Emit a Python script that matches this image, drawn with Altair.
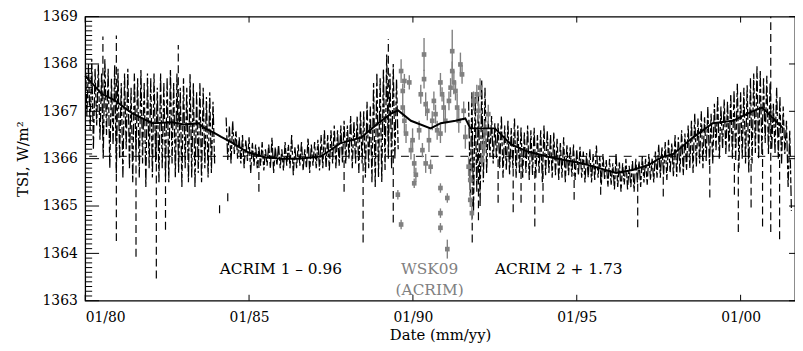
import altair as alt
import pandas as pd

FONT = "DejaVu Serif"
GRAY = "#808080"

# ---------------- data ----------------
BIN = 0.1
# ACRIM 1, noisy phase (bins of 0.1 yr starting 1980.0)
A_start = 1980.0
A_hi = [1368.2, 1368.0, 1368.1, 1367.9, 1368.0, 1367.8, 1368.1, 1367.9, 1367.7, 1368.0,
        1367.9, 1367.6, 1367.8, 1367.9, 1367.5, 1367.8, 1367.7, 1367.9, 1367.6, 1367.8,
        1367.7, 1367.8, 1367.5, 1367.8, 1367.6, 1367.7, 1367.9, 1367.6, 1367.8, 1367.5,
        1367.7, 1367.5, 1367.8, 1367.6, 1367.4, 1367.6, 1367.5, 1367.3, 1367.4, 1367.2]
A_lo = [1366.9, 1366.6, 1366.2, 1366.7, 1366.4, 1366.0, 1366.5, 1365.8, 1366.3, 1365.7,
        1366.0, 1365.6, 1366.2, 1365.8, 1365.5, 1366.1, 1365.6, 1365.9, 1365.4, 1365.8,
        1365.6, 1365.9, 1365.5, 1365.8, 1365.6, 1365.5, 1365.9, 1365.6, 1365.7, 1365.4,
        1365.8, 1365.5, 1365.6, 1365.4, 1365.7, 1365.5, 1365.8, 1365.6, 1365.7, 1365.9]
# ACRIM 1, quiet phase (from 1984.3)
B_start = 1984.3
B_hi = [1366.87, 1366.70, 1366.80, 1366.60,
        1366.45, 1366.50, 1366.40, 1366.45, 1366.35,
        1366.30, 1366.25, 1366.35, 1366.20, 1366.30, 1366.45, 1366.25, 1366.30, 1366.20, 1366.35,
        1366.30, 1366.50, 1366.25, 1366.30, 1366.35, 1366.20, 1366.45, 1366.30, 1366.35, 1366.40, 1366.50,
        1366.60, 1366.50, 1366.60, 1366.70, 1366.60, 1366.70,
        1366.80, 1366.70, 1366.90, 1366.80, 1366.90, 1367.00,
        1367.00, 1367.20, 1367.10,
        1367.60, 1367.80, 1367.70,
        1367.90, 1368.20,
        1367.80, 1368.00, 1367.70]
B_lo = [1365.97, 1365.90, 1366.10, 1366.00,
        1365.90, 1365.80, 1365.95, 1365.70, 1365.85,
        1365.80, 1365.85, 1365.75, 1365.85, 1365.80, 1365.70, 1365.85, 1365.80, 1365.75, 1365.85,
        1365.80, 1365.65, 1365.80, 1365.85, 1365.75, 1365.80, 1365.70, 1365.85, 1365.80, 1365.75, 1365.80,
        1365.80, 1365.75, 1365.90, 1365.80, 1365.85, 1365.90,
        1365.90, 1366.00, 1365.80, 1365.90, 1365.70, 1365.90,
        1365.60, 1365.80, 1365.50,
        1365.40, 1365.60, 1365.50,
        1365.76, 1366.00,
        1365.80, 1366.00, 1366.20]
# ACRIM 2 (from 1991.7)
C_start = 1991.7
C_hi = [1367.20, 1367.40, 1367.30, 1367.37,
        1367.65, 1367.50,
        1366.80, 1366.90, 1366.75,
        1366.75, 1366.90, 1366.70, 1366.80, 1366.65, 1366.85, 1366.70,
        1366.66, 1366.55, 1366.70, 1366.60, 1366.65, 1366.50, 1366.60, 1366.70,
        1366.60, 1366.50, 1366.55,
        1366.43, 1366.35, 1366.45, 1366.30,
        1366.24, 1366.30, 1366.20, 1366.25, 1366.15,
        1366.12, 1366.20, 1366.10, 1366.28, 1366.05, 1366.10,
        1365.97, 1366.00, 1365.90, 1366.10, 1365.95, 1365.90, 1366.00, 1365.85, 1365.95,
        1366.00, 1365.95, 1366.05, 1366.00, 1366.10, 1366.00, 1366.15,
        1366.30, 1366.25, 1366.35, 1366.40, 1366.33,
        1366.50, 1366.45, 1366.60, 1366.53, 1366.70, 1366.80,
        1366.95, 1366.85, 1367.00, 1366.90, 1367.10, 1366.95,
        1367.16, 1367.30, 1367.10, 1367.25, 1367.20, 1367.35,
        1367.43, 1367.60, 1367.40, 1367.50, 1367.55, 1367.70,
        1367.80, 1367.95, 1367.85,
        1367.70, 1367.75, 1367.60,
        1367.16, 1367.50, 1367.30, 1367.10,
        1366.80, 1366.60]
C_lo = [1365.20, 1364.90, 1365.30, 1365.00,
        1365.50, 1365.70,
        1366.03, 1365.90, 1366.00,
        1365.80, 1365.60, 1365.75, 1365.65, 1365.80, 1365.60, 1365.70,
        1365.60, 1365.70, 1365.55, 1365.65, 1365.60, 1365.70, 1365.50, 1365.65,
        1365.70, 1365.60, 1365.65,
        1365.55, 1365.60, 1365.50, 1365.65,
        1365.62, 1365.55, 1365.65, 1365.60, 1365.50,
        1365.60, 1365.50, 1365.55, 1365.60, 1365.45, 1365.55,
        1365.40, 1365.45, 1365.35, 1365.40, 1365.30, 1365.45, 1365.35, 1365.40, 1365.30,
        1365.50, 1365.40, 1365.50, 1365.45, 1365.55, 1365.50, 1365.60,
        1365.60, 1365.65, 1365.55, 1365.70, 1365.62,
        1365.62, 1365.70, 1365.65, 1365.75, 1365.80, 1365.70,
        1365.83, 1365.90, 1365.80, 1365.95, 1365.85, 1365.90,
        1366.18, 1366.00, 1366.20, 1366.10, 1366.15, 1366.00,
        1365.97, 1365.80, 1366.00, 1365.90, 1365.70, 1365.90,
        1366.12, 1366.00, 1366.10,
        1366.33, 1366.10, 1366.20,
        1366.12, 1366.00, 1365.90, 1366.10,
        1365.40, 1364.90]

# isolated spikes (dashed streaks)
spike_t = [1980.54, 1980.95, 1981.55, 1982.17, 1982.45, 1982.84, 1984.10, 1984.35,
           1985.30, 1987.90, 1988.48, 1989.25, 1989.40,
           1991.81, 1992.00, 1992.60, 1993.06, 1993.30, 1993.72, 1993.97, 1994.92,
           1995.73, 1996.86, 1997.64, 1999.06, 1999.81, 1999.93, 2000.32, 2000.67,
           2000.92, 2001.19]
spike_lo = [1366.50, 1364.26, 1363.93, 1363.47, 1364.50, 1366.80, 1364.85, 1365.10,
            1365.30, 1365.30, 1364.23, 1366.50, 1364.65,
            1364.23, 1364.70, 1365.07, 1364.87, 1365.07, 1364.57, 1365.07, 1365.13,
            1365.24, 1364.55, 1365.20, 1365.18, 1365.24, 1364.45, 1364.97, 1364.57,
            1364.45, 1364.30]
spike_hi = [1368.58, 1368.60, 1366.50, 1366.60, 1366.00, 1368.40, 1365.10, 1365.30,
            1366.00, 1366.00, 1366.00, 1368.52, 1366.20,
            1366.50, 1366.20, 1366.00, 1365.90, 1365.90, 1365.80, 1365.80, 1365.70,
            1365.70, 1365.60, 1365.70, 1365.90, 1366.00, 1366.00, 1366.00, 1366.20,
            1369.00, 1366.10]

# running mean
smooth_t = [1980.0, 1980.2, 1980.5, 1980.9, 1981.45, 1982.05, 1982.66, 1983.0, 1983.47, 1983.6,
            1983.95, 1984.15, 1984.45, 1984.95, 1985.47, 1986.0, 1986.47, 1987.0, 1987.2, 1987.8,
            1988.43, 1988.94, 1989.33, 1989.55, 1989.94, 1990.54, 1990.85, 1991.3, 1991.6, 1991.75,
            1992.5, 1993.0, 1993.5, 1994.2, 1995.17, 1996.2, 1996.7, 1997.2, 1997.6, 1997.95,
            1998.55, 1999.15, 1999.76, 2000.36, 2000.66, 2000.97, 2001.27]
smooth_v = [1367.75, 1367.60, 1367.37, 1367.23, 1366.95, 1366.75, 1366.77, 1366.72, 1366.75, 1366.66,
            1366.54, 1366.46, 1366.35, 1366.14, 1366.03, 1366.00, 1366.00, 1366.03, 1366.05, 1366.33,
            1366.45, 1366.75, 1366.95, 1367.02, 1366.80, 1366.64, 1366.75, 1366.80, 1366.85, 1366.64,
            1366.64, 1366.30, 1366.15, 1366.03, 1365.90, 1365.70, 1365.76, 1365.87, 1366.03, 1366.10,
            1366.45, 1366.75, 1366.80, 1367.00, 1367.08, 1366.87, 1366.66]

# WSK09 (ACRIM) points with error bars
wsk_t = [1989.54, 1989.64, 1989.64, 1989.69, 1989.69, 1989.74, 1989.74, 1989.79, 1989.89, 1989.94,
         1989.99, 1990.04, 1990.09, 1990.04, 1990.19, 1990.24, 1990.34, 1990.34, 1990.39, 1990.44,
         1990.29, 1990.39, 1990.49, 1990.54, 1990.64, 1990.69, 1990.74, 1990.59, 1990.84, 1990.89,
         1990.84, 1990.84, 1990.84, 1990.84, 1990.94, 1991.05, 1991.05, 1990.99, 1991.10, 1991.20,
         1991.20, 1991.25, 1991.15, 1991.30, 1991.45, 1991.50, 1991.35, 1991.40, 1991.55, 1991.60,
         1991.70, 1991.75, 1991.75, 1991.80, 1991.85, 1991.95, 1992.00, 1992.05, 1992.10, 1992.15,
         1992.20, 1992.30]
wsk_v = [1365.24, 1367.85, 1364.61, 1367.08, 1367.43, 1367.64, 1366.80, 1366.53, 1367.61, 1366.18,
         1366.39, 1365.90, 1365.66, 1365.48, 1366.60, 1367.36, 1368.20, 1367.68, 1367.15, 1367.01,
         1366.18, 1365.90, 1366.39, 1365.83, 1367.22, 1366.94, 1366.60, 1366.80, 1367.61, 1367.36,
         1366.53, 1365.38, 1364.85, 1364.54, 1367.08, 1365.17, 1364.09, 1366.80, 1367.22, 1368.27,
         1367.85, 1367.61, 1367.50, 1367.43, 1367.99, 1367.78, 1367.08, 1366.80, 1367.01, 1366.46,
         1365.83, 1365.55, 1365.13, 1364.85, 1367.22, 1367.36, 1367.01, 1367.50, 1365.97, 1366.25,
         1366.60, 1366.94]
wsk_e = [0.10, 0.25, 0.10, 0.20, 0.15, 0.15, 0.25, 0.20, 0.15, 0.20,
         0.25, 0.20, 0.15, 0.10, 0.20, 0.20, 0.35, 0.20, 0.25, 0.20,
         0.15, 0.20, 0.25, 0.15, 0.20, 0.20, 0.20, 0.20, 0.20, 0.15,
         0.20, 0.10, 0.10, 0.10, 0.25, 0.10, 0.20, 0.25, 0.20, 0.45,
         0.20, 0.25, 0.20, 0.20, 0.25, 0.20, 0.30, 0.25, 0.20, 0.25,
         0.20, 0.20, 0.15, 0.15, 0.20, 0.20, 0.20, 0.20, 0.15, 0.20,
         0.20, 0.20]

ref_level = 1366.05

ann_text = ["ACRIM 1 \u2013 0.96", "WSK09", "(ACRIM)", "ACRIM 2 + 1.73"]
ann_t = [1985.97, 1990.51, 1990.51, 1994.45]
ann_v = [1363.67, 1363.67, 1363.23, 1363.67]
ann_c = ["black", GRAY, GRAY, "black"]

x_ticks = [1980, 1985, 1990, 1995, 2000]
y_ticks = [1363, 1364, 1365, 1366, 1367, 1368, 1369]
y_minor = [round(1363 + k * 0.1, 1) for k in range(61) if k % 10 != 0]

X_DOMAIN = [1980, 2001.66]
Y_DOMAIN = [1363, 1369]
W, H = 717, 287

# ---------------- tables ----------------
rows = []
for seg, (start, his, los) in enumerate([(A_start, A_hi, A_lo), (B_start, B_hi, B_lo), (C_start, C_hi, C_lo)]):
    for k, (h, l) in enumerate(zip(his, los)):
        t = start + k * BIN
        rows.append(dict(seg=seg, i=2 * k, t=t, v=h))
        rows.append(dict(seg=seg, i=2 * k + 1, t=t + BIN / 2, v=l))
noise = pd.DataFrame(rows)
spikes = pd.DataFrame(dict(t=spike_t, lo=spike_lo, hi=spike_hi))
smooth = pd.DataFrame(dict(t=smooth_t, v=smooth_v))
wsk = pd.DataFrame(dict(t=wsk_t, v=wsk_v,
                        lo=[v - e for v, e in zip(wsk_v, wsk_e)],
                        hi=[v + e for v, e in zip(wsk_v, wsk_e)]))
ann = pd.DataFrame(dict(t=ann_t, v=ann_v, text=ann_text, c=ann_c))
xt = pd.DataFrame(dict(t=x_ticks))
yt = pd.DataFrame(dict(v=y_ticks))
ym = pd.DataFrame(dict(v=y_minor))

xs = alt.Scale(domain=X_DOMAIN, nice=False, zero=False)
ys = alt.Scale(domain=Y_DOMAIN, nice=False, zero=False)
xax = alt.Axis(values=x_ticks, labelExpr="'01/' + slice(toString(datum.value), 2, 4)",
               title="Date (mm/yy)", ticks=False, tickSize=0, domain=False, grid=False,
               labelPadding=10, labelFontSize=14, titleFontSize=15, titleY=39,
               titleBaseline="alphabetic", labelFont=FONT, titleFont=FONT,
               labelColor="black", titleColor="black", titleFontWeight="normal")
yax = alt.Axis(values=y_ticks, format="d", title="TSI, W/m\u00b2", ticks=False, tickSize=0,
               domain=False, grid=False, labelPadding=8, titlePadding=12,
               labelFontSize=14, titleFontSize=15, labelFont=FONT, titleFont=FONT,
               labelColor="black", titleColor="black", titleFontWeight="normal")


def X(f):
    return alt.X(f, type="quantitative", scale=xs, axis=xax)


def Y(f):
    return alt.Y(f, type="quantitative", scale=ys, axis=yax)


base_ref = alt.Chart(pd.DataFrame(dict(v=[ref_level]))).mark_rule(
    color="black", strokeWidth=1, strokeDash=[8, 7]).encode(y=Y("v"))

noise_line = alt.Chart(noise).mark_line(
    color="black", strokeWidth=1.25, strokeDash=[9, 2, 4, 3, 6, 2, 11, 3], clip=True).encode(
    x=X("t"), y=Y("v"), detail="seg:N", order="i:Q")

spike_rules = alt.Chart(spikes).mark_rule(
    color="black", strokeWidth=1.2, strokeDash=[8, 4], clip=True).encode(
    x=X("t"), y=Y("lo"), y2="hi")

wsk_err = alt.Chart(wsk).mark_rule(color=GRAY, strokeWidth=1.4).encode(
    x=X("t"), y=Y("lo"), y2="hi")
wsk_pts = alt.Chart(wsk).mark_square(color=GRAY, size=22, opacity=1).encode(
    x=X("t"), y=Y("v"))

smooth_line = alt.Chart(smooth).mark_line(color="black", strokeWidth=2).encode(
    x=X("t"), y=Y("v"))

texts = alt.Chart(ann).mark_text(font=FONT, fontSize=15.5, baseline="middle", align="center").encode(
    x=X("t"), y=Y("v"), text="text:N", color=alt.Color("c:N", scale=None))

tick_left_major = alt.Chart(yt).mark_rule(color="black", strokeWidth=1).encode(
    y=Y("v"), x=alt.value(0), x2=alt.value(14))
tick_left_minor = alt.Chart(ym).mark_rule(color="black", strokeWidth=1).encode(
    y=Y("v"), x=alt.value(0), x2=alt.value(7))
tick_right = alt.Chart(yt).mark_rule(color="black", strokeWidth=1).encode(
    y=Y("v"), x=alt.value(W - 6), x2=alt.value(W))
tick_bottom = alt.Chart(xt).mark_rule(color="black", strokeWidth=1).encode(
    x=X("t"), y=alt.value(H - 6), y2=alt.value(H))
tick_top = alt.Chart(xt).mark_rule(color="black", strokeWidth=1).encode(
    x=X("t"), y=alt.value(0), y2=alt.value(6))

chart = alt.layer(
    base_ref, noise_line, spike_rules, wsk_err, wsk_pts, smooth_line, texts,
    tick_left_major, tick_left_minor, tick_right, tick_bottom, tick_top
).properties(
    width=W, height=H,
    padding={"left": 78, "top": 7, "right": 0, "bottom": 41},
    autosize=alt.AutoSizeParams(type="none"),
    background="white",
).configure_view(stroke="black", strokeWidth=1.3)

chart.save("out.html", embed_options={"renderer": "svg", "actions": False})
